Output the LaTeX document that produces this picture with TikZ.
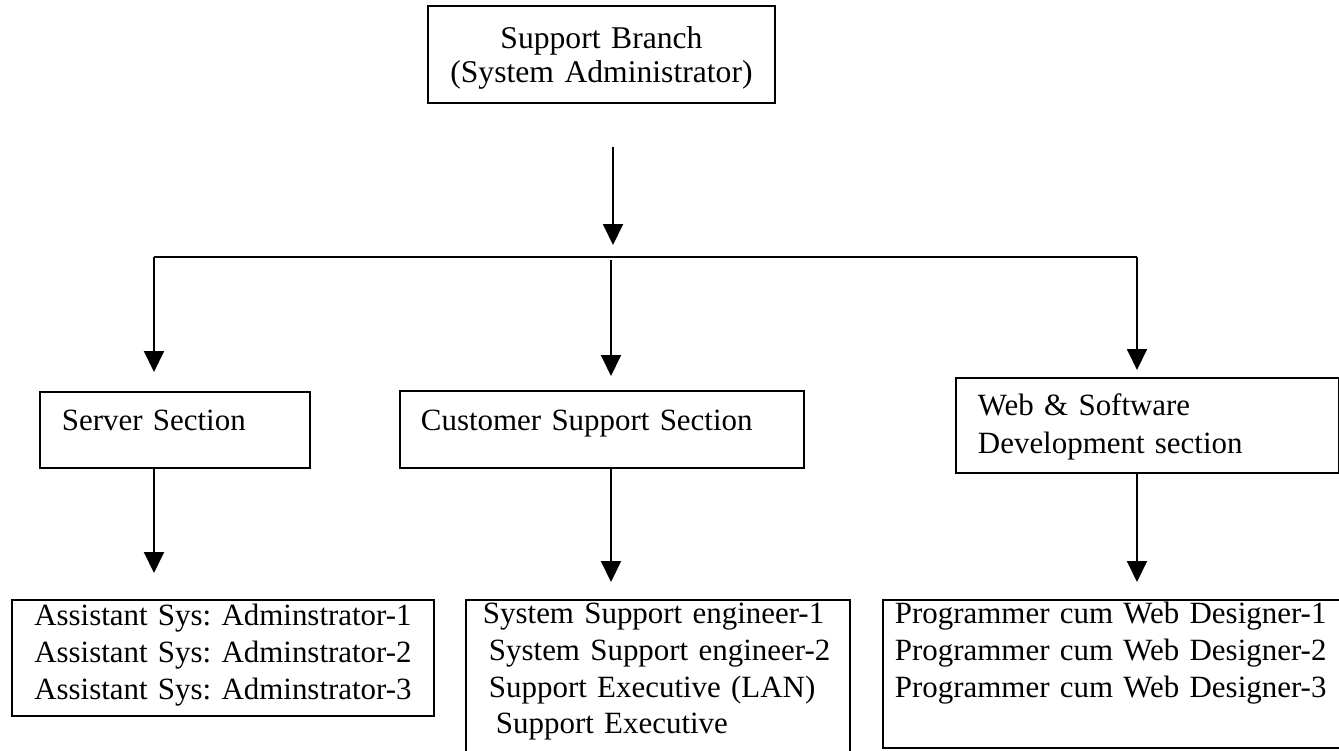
\documentclass[tikz,border=0pt]{standalone}
\usepackage{fontspec}
\setmainfont{Liberation Serif}
\usepackage{tikz}
\usetikzlibrary{arrows.meta,positioning}
\frenchspacing

\begin{document}
\begin{tikzpicture}[line width=0.55pt,
    box/.style={draw,rectangle,anchor=north west,inner ysep=0pt,
      font=\fontsize{8.8}{10.4}\selectfont},
    arr/.style={-{Triangle[length=0.21cm,width=0.2cm]}}]
    \useasboundingbox (0,0) rectangle (13.39,-7.50);
    % head box
    \node[box,align=center,inner xsep=0.1cm,text width=3.27cm,
      text height=0.43cm,text depth=0.54cm,
      font=\fontsize{9}{9.6}\selectfont] (head) at (4.27,-0.05)
      {Support Branch\\(System Administrator)};
    % section boxes
    \node[box,align=left,inner xsep=0.22cm,text width=2.26cm,
      text height=0.39cm,text depth=0.37cm] (server) at (0.39,-3.91)
      {Server Section};
    \node[box,align=left,inner xsep=0.21cm,text width=3.62cm,
      text height=0.40cm,text depth=0.37cm] (custsec) at (3.99,-3.90)
      {Customer Support Section};
    \node[box,align=left,inner xsep=0.22cm,text width=3.39cm,
      text height=0.38cm,text depth=0.57cm,
      font=\fontsize{8.8}{10.8}\selectfont] (websec) at (9.55,-3.77)
      {Web \& Software\\Development section};
    % staff boxes
    \node[box,align=center,inner xsep=0.1cm,text width=4.02cm,
      text height=0.26cm,text depth=0.90cm] (serverstaff) at (0.11,-5.99)
      {Assistant Sys: Adminstrator-1\\Assistant Sys: Adminstrator-2\\Assistant Sys: Adminstrator-3};
    \node[box,align=left,inner xsep=0.12cm,text width=3.60cm,
      text height=0.24cm,text depth=1.60cm] (custstaff) at (4.65,-5.99)
      {\hspace{0.05cm}System Support engineer-1\\\hspace{0.11cm}System Support engineer-2\\
       \hspace{0.11cm}Support Executive (LAN)\\\hspace{0.18cm}Support Executive};
    \node[box,align=left,inner xsep=0.12cm,text width=4.46cm,
      text height=0.24cm,text depth=1.24cm] (webstaff) at (8.82,-5.99)
      {Programmer cum Web Designer-1\\Programmer cum Web Designer-2\\Programmer cum Web Designer-3};
    % fork points
    \coordinate (stem) at (6.13,-1.47);
    \coordinate (fork) at (6.13,-2.45);
    \coordinate (busL) at (1.54,-2.57);
    \coordinate (busM) at (6.11,-2.60);
    \coordinate (busR) at (11.37,-2.57);
    % connectors
    \draw[arr] (stem) -- (fork);
    \draw (busL) -- (busR);
    \draw[arr,shorten >=0.19cm] (busL) -- (busL |- server.north);
    \draw[arr,shorten >=0.14cm] (busM) -- (busM |- custsec.north);
    \draw[arr,shorten >=0.07cm] (busR) -- (busR |- websec.north);
    \draw[arr,shorten >=0.26cm] (server.south -| busL) -- (busL |- serverstaff.north);
    \draw[arr,shorten >=0.17cm] (custsec.south -| busM) -- (busM |- custstaff.north);
    \draw[arr,shorten >=0.17cm] (websec.south -| busR) -- (busR |- webstaff.north);
\end{tikzpicture}
\end{document}
